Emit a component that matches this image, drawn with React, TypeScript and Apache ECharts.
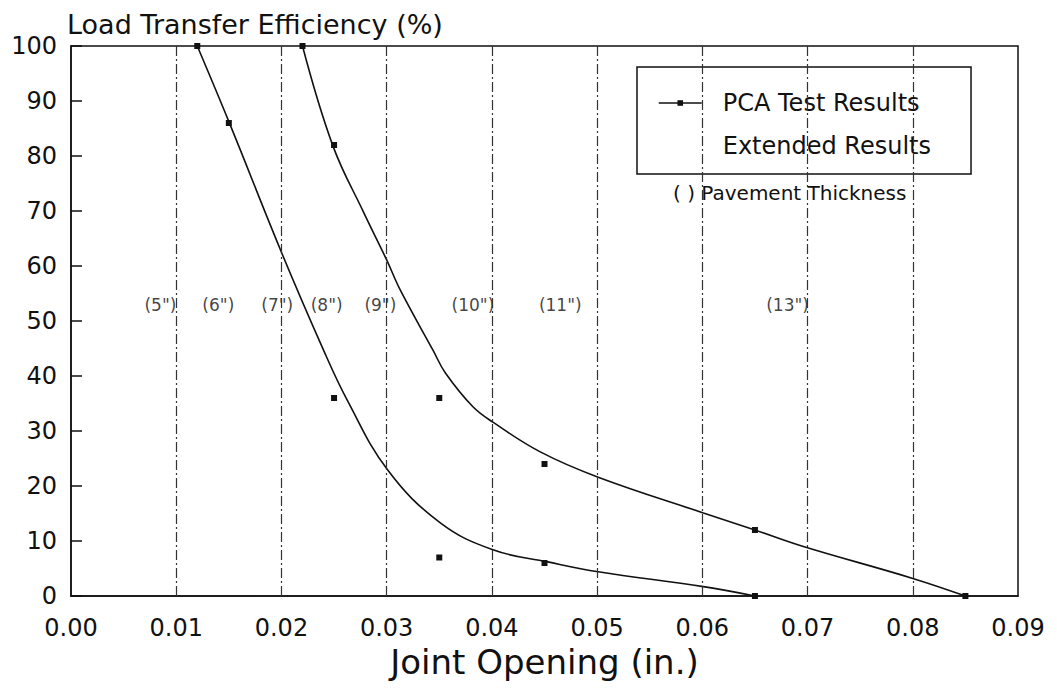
import React, { useEffect, useRef } from "react";
import * as echarts from "echarts";

// Smooth curves (joint opening in., LTE %)
const curveAX = [0.012, 0.0151, 0.02, 0.024, 0.0262, 0.0301, 0.0351, 0.0401, 0.0453, 0.0501, 0.0601, 0.065];
const curveAY = [100, 85.8, 62.5, 44.7, 35.8, 22.9, 13.3, 8.4, 6.2, 4.4, 1.7, 0];
const curveBX = [0.022, 0.0249, 0.0278, 0.03, 0.0313, 0.0344, 0.0356, 0.0382, 0.0401, 0.0446, 0.0501, 0.0601, 0.065, 0.0696, 0.08, 0.085];
const curveBY = [100, 81.8, 69.8, 61.1, 55.6, 44.7, 40.5, 34.4, 31.6, 26.2, 21.6, 15.1, 12, 9, 3.2, 0];

// Test points (markers)
const testAX = [0.012, 0.015, 0.025, 0.035, 0.045, 0.065];
const testAY = [100, 86, 36, 7, 6, 0];
const testBX = [0.022, 0.025, 0.035, 0.045, 0.065, 0.085];
const testBY = [100, 82, 36, 24, 12, 0];

// Pavement thickness dividers and labels
const thicknessLines = [0.01, 0.02, 0.03, 0.04, 0.05, 0.06, 0.07, 0.08];
const thicknessLabels = ['(5")', '(6")', '(7")', '(8")', '(9")', '(10")', '(11")', '(13")'];
const thicknessLabelX = [0.0085, 0.014, 0.0196, 0.0243, 0.0294, 0.0382, 0.0465, 0.0681];
const thicknessLabelY = 53;

const xMin = 0;
const xMax = 0.09;
const xInterval = 0.01;
const yMin = 0;
const yMax = 100;
const yInterval = 10;

const FONT = "DejaVu Sans";
const INK = "#111";

export default function App() {
  const ref = useRef<HTMLDivElement>(null);

  useEffect(() => {
    if (!ref.current) return;
    const chart = echarts.init(ref.current, null, { renderer: "svg" });
    const zip = (xs: number[], ys: number[]) => xs.map((x, i) => [x, ys[i]]);

    const curve = (xs: number[], ys: number[]) => ({
      name: "Extended Results",
      type: "line",
      data: zip(xs, ys),
      symbol: "none",
      smooth: 0.4,
      lineStyle: { color: INK, width: 1.6 },
      silent: true,
      z: 3,
    });
    const points = (xs: number[], ys: number[]) => ({
      name: "PCA Test Results",
      type: "line",
      data: zip(xs, ys),
      symbol: "rect",
      symbolSize: 6,
      itemStyle: { color: INK },
      lineStyle: { width: 0, color: INK },
      silent: true,
      z: 4,
    });

    chart.setOption({
      animation: false,
      backgroundColor: "#fff",
      textStyle: { fontFamily: FONT, color: INK },
      grid: {
        left: 71,
        right: 39,
        top: 46,
        bottom: 101,
        show: true,
        borderColor: INK,
        borderWidth: 1.5,
        backgroundColor: "transparent",
      },
      legend: {
        orient: "vertical",
        left: 637,
        top: 67,
        padding: [24, 40, 16, 21],
        itemGap: 19,
        itemWidth: 43,
        itemHeight: 7,
        borderColor: INK,
        borderWidth: 1.5,
        backgroundColor: "#fff",
        selectedMode: false,
        textStyle: { fontFamily: FONT, fontSize: 24, color: INK, padding: [0, 0, 0, 16], lineHeight: 24 },
        data: [
          { name: "PCA Test Results", lineStyle: { width: 1.5, color: INK, opacity: 1 } },
          { name: "Extended Results", icon: "none" },
        ],
      },
      graphic: [
        {
          type: "text",
          left: 673,
          top: 183,
          style: { text: "( ) Pavement Thickness", font: `20px "${FONT}"`, fill: INK },
        },
      ],
      xAxis: {
        type: "value",
        min: xMin,
        max: xMax,
        interval: xInterval,
        name: "Joint Opening (in.)",
        nameLocation: "middle",
        nameGap: 54,
        nameTextStyle: { fontFamily: FONT, fontSize: 34, color: INK, verticalAlign: "middle" },
        axisLine: { lineStyle: { color: INK, width: 1.5 } },
        axisTick: { show: false },
        splitLine: { show: false },
        axisLabel: {
          fontFamily: FONT,
          fontSize: 24,
          color: INK,
          margin: 20,
          formatter: (v: number) => v.toFixed(2),
        },
      },
      yAxis: {
        type: "value",
        min: yMin,
        max: yMax,
        interval: yInterval,
        name: "Load Transfer Efficiency (%)",
        nameLocation: "end",
        nameGap: 22,
        nameTextStyle: { fontFamily: FONT, fontSize: 27, color: INK, align: "left", verticalAlign: "middle", padding: [0, 0, 0, -4] },
        axisLine: { show: true, lineStyle: { color: INK, width: 1.5 } },
        axisTick: { show: true, inside: true, length: 11, lineStyle: { color: INK, width: 1.5 } },
        splitLine: { show: false },
        axisLabel: { fontFamily: FONT, fontSize: 24, color: INK, margin: 14 },
      },
      series: [
        curve(curveAX, curveAY),
        curve(curveBX, curveBY),
        points(testAX, testAY),
        points(testBX, testBY),
        {
          name: "Thickness",
          type: "scatter",
          data: thicknessLabels.map((t, i) => ({ name: t, value: [thicknessLabelX[i], thicknessLabelY] })),
          symbolSize: 0,
          silent: true,
          label: {
            show: true,
            position: "inside",
            formatter: (p: any) => p.name,
            fontFamily: FONT,
            fontSize: 17,
            color: INK,
          },
          markLine: {
            silent: true,
            symbol: ["none", "none"],
            label: { show: false },
            lineStyle: { color: "#333", width: 1.2, type: [10, 3, 2, 3] },
            data: thicknessLines.map((x) => ({ xAxis: x })),
          },
          z: 2,
        },
      ],
    });

    return () => chart.dispose();
  }, []);

  return <div ref={ref} style={{ position: "absolute", left: 0, top: 0, width: 1057, height: 697 }} />;
}
